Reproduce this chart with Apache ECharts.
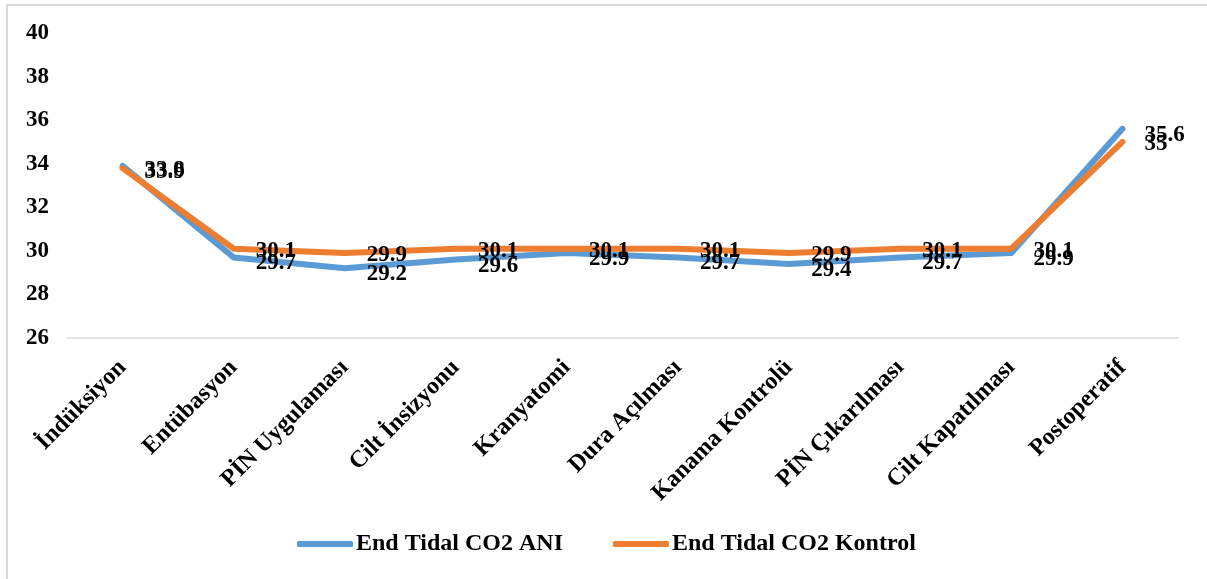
<!DOCTYPE html>
<html>
<head>
<meta charset="utf-8">
<script src="https://cdn.jsdelivr.net/npm/echarts@6/dist/echarts.min.js"></script>
<style>
  html, body { margin: 0; padding: 0; background: #fff; }
  #chart { width: 1207px; height: 579px; }
</style>
</head>
<body>
<div id="chart"></div>
<script>
// Surgical stages
const categories = ['İndüksiyon', 'Entübasyon', 'PİN Uygulaması', 'Cilt İnsizyonu', 'Kranyatomi',
  'Dura Açılması', 'Kanama Kontrolü', 'PİN Çıkarılması', 'Cilt Kapatılması', 'Postoperatif'];
// End tidal CO2 per stage
const aniValues = [33.9, 29.7, 29.2, 29.6, 29.9, 29.7, 29.4, 29.7, 29.9, 35.6];
const kontrolValues = [33.8, 30.1, 29.9, 30.1, 30.1, 30.1, 29.9, 30.1, 30.1, 35];
const seriesNames = ['End Tidal CO2 ANI', 'End Tidal CO2 Kontrol'];
const yTicks = { min: 26, max: 40, interval: 2 };

const FONT = '"Liberation Serif", "Times New Roman", serif';
const labelStyle = {
  show: true, position: 'right', distance: 22,
  fontFamily: FONT, fontWeight: 'bold', fontSize: 23, color: '#000'
};

const chart = echarts.init(document.getElementById('chart'));
chart.setOption({
  animation: false,
  backgroundColor: '#fff',
  graphic: [{
    type: 'polyline',
    shape: { points: [[7, 579], [7, 5], [1207, 5]] },
    style: { stroke: '#d9d9d9', lineWidth: 2, fill: null },
    silent: true
  }],
  grid: { left: 67, right: 29, top: 33, bottom: 241, containLabel: false },
  legend: {
    bottom: 23, left: 297, padding: 0,
    itemWidth: 56, itemHeight: 6, itemGap: 50,
    icon: 'roundRect',
    textStyle: { fontFamily: FONT, fontWeight: 'bold', fontSize: 24, color: '#000', padding: [0, 0, 0, -2] },
    data: seriesNames
  },
  xAxis: {
    type: 'category',
    data: categories,
    boundaryGap: true,
    axisLine: { lineStyle: { color: '#d9d9d9', width: 1.5 } },
    axisTick: { show: false },
    axisLabel: {
      rotate: 45, margin: 26, interval: 0,
      fontFamily: FONT, fontWeight: 'bold', fontSize: 24, color: '#000'
    }
  },
  yAxis: {
    type: 'value',
    min: yTicks.min, max: yTicks.max, interval: yTicks.interval,
    axisLine: { show: false },
    axisTick: { show: false },
    splitLine: { show: false },
    axisLabel: {
      margin: 18,
      fontFamily: FONT, fontWeight: 'bold', fontSize: 23, color: '#000'
    }
  },
  series: [
    {
      name: seriesNames[0], type: 'line', data: aniValues,
      color: '#5B9BD5',
      lineStyle: { width: 6, cap: 'round', join: 'round' },
      symbol: 'circle', symbolSize: 0.1, showSymbol: true,
      label: Object.assign({}, labelStyle, { offset: [0, 6] }),
      z: 2
    },
    {
      name: seriesNames[1], type: 'line', data: kontrolValues,
      color: '#ED7D31',
      lineStyle: { width: 6, cap: 'round', join: 'round' },
      symbol: 'circle', symbolSize: 0.1, showSymbol: true,
      label: Object.assign({}, labelStyle, { offset: [0, 2] }),
      z: 3
    }
  ]
});
</script>
</body>
</html>
